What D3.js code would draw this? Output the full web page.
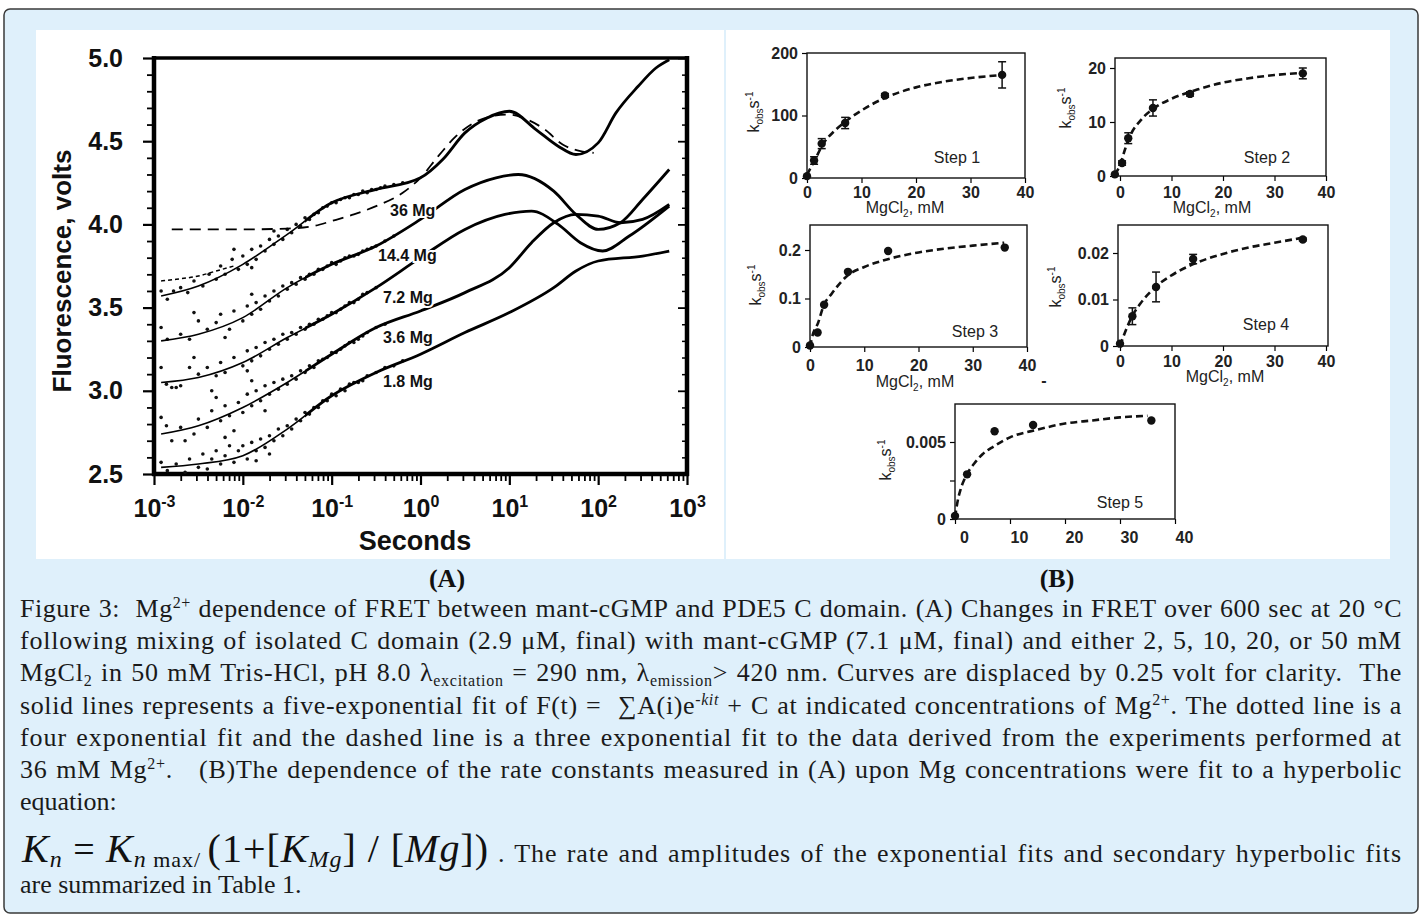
<!DOCTYPE html>
<html>
<head>
<meta charset="utf-8">
<script src="https://d3js.org/d3.v7.min.js"></script>
<style>
body { margin: 0; background: #fff; }
svg text { font-family: "Liberation Sans", Arial, sans-serif; }
svg text.cap { font-family: "Liberation Serif", "Times New Roman", serif; }
</style>
</head>
<body>
<svg id="fig" width="1423" height="920"></svg>
<script>
// ---- panel A data: [log10(seconds), volts] ----
var decades = [-3, -2, -1, 0, 1, 2, 3];
var voltTicks = [2.5, 3.0, 3.5, 4.0, 4.5, 5.0];
var traceNames = ["36 Mg", "14.4 Mg", "7.2 Mg", "3.6 Mg", "1.8 Mg"];
var traceLabelAt = [[-0.343, 4.05], [-0.478, 3.78], [-0.422, 3.53], [-0.422, 3.29], [-0.422, 3.02]];

var fit36 = [[-2.92,3.57],[-2.5,3.63],[-2,3.76],[-1.5,3.94],[-1,4.13],[-0.5,4.21],[0,4.28],[0.25,4.39],[0.5,4.55],[0.75,4.64],[1,4.68],[1.3,4.57],[1.55,4.47],[1.75,4.42],[2,4.49],[2.2,4.67],[2.45,4.83],[2.65,4.94],[2.8,4.99]];
var fit14 = [[-2.92,3.30],[-2.5,3.34],[-2,3.44],[-1.5,3.62],[-1,3.76],[-0.5,3.87],[0,4.03],[0.5,4.21],[0.85,4.28],[1.1,4.30],[1.5,4.20],[1.75,4.06],[2,3.97],[2.25,4.01],[2.5,4.15],[2.8,4.33]];
var fit7 = [[-2.92,3.05],[-2.5,3.08],[-2,3.17],[-1.5,3.32],[-1,3.46],[-0.5,3.62],[0,3.80],[0.5,3.97],[0.95,4.06],[1.25,4.08],[1.55,4.00],[1.8,3.89],[2.05,3.84],[2.35,3.93],[2.8,4.11]];
var fit3 = [[-2.92,2.74],[-2.5,2.79],[-2,2.90],[-1.5,3.05],[-1,3.22],[-0.5,3.38],[0,3.48],[0.5,3.59],[1,3.74],[1.25,3.89],[1.5,4.01],[1.75,4.06],[2,4.05],[2.25,4.01],[2.5,4.03],[2.8,4.12]];
var fit1 = [[-2.92,2.54],[-2.5,2.56],[-2,2.61],[-1.5,2.77],[-1,2.97],[-0.5,3.11],[0,3.22],[0.5,3.35],[1,3.47],[1.5,3.62],[1.75,3.72],[2,3.78],[2.5,3.81],[2.8,3.84]];
var fit36four = [[-2.92,3.66],[-2.75,3.67],[-2.5,3.69],[-2.3,3.72],[-2.1,3.75]];
var fit36three = [[-2.8,3.97],[-2,3.97],[-1.5,3.975],[-1.2,3.99],[-1,4.02],[-0.75,4.06],[-0.5,4.11],[-0.2,4.19],[0,4.28],[0.2,4.41],[0.4,4.53],[0.6,4.61],[0.8,4.65],[1,4.66],[1.2,4.63],[1.4,4.57],[1.6,4.48],[1.8,4.44],[1.95,4.43]];

var pts36 = [[-2.92,3.60],[-2.85,3.55],[-2.78,3.60],[-2.7,3.62],[-2.62,3.59],[-2.55,3.66],[-2.45,3.63],[-2.38,3.70],[-2.3,3.67],[-2.25,3.75],[-2.2,3.70],[-2.12,3.79],[-2.05,3.73],[-2.0,3.81],[-1.95,3.76],[-1.9,3.85],[-1.85,3.79],[-1.8,3.87],[-1.75,3.84],[-1.7,3.91],[-1.65,3.88],[-1.6,3.93],[-1.55,3.91],[-1.5,3.97],[-1.45,3.95],[-1.4,4.00],[-1.35,3.99],[-1.3,4.04],[-1.25,4.03],[-1.2,4.06],[-1.15,4.07],[-1.1,4.10],[-1.05,4.11],[-1.0,4.13],[-0.95,4.13],[-0.9,4.15],[-0.85,4.16],[-0.8,4.16],[-0.75,4.18],[-0.7,4.18],[-0.65,4.20],[-0.6,4.19],[-0.55,4.21],[-0.5,4.21],[-0.45,4.22],[-0.4,4.23],[-0.3,4.24],[-0.2,4.25],[-1.9,3.74],[-2.1,3.85],[-1.65,3.96]];
var pts14 = [[-2.92,3.38],[-2.85,3.31],[-2.7,3.34],[-2.6,3.31],[-2.5,3.42],[-2.4,3.37],[-2.3,3.41],[-2.25,3.46],[-2.15,3.37],[-2.1,3.48],[-2.0,3.42],[-1.95,3.51],[-1.9,3.46],[-1.85,3.53],[-1.8,3.49],[-1.75,3.57],[-1.7,3.54],[-1.65,3.60],[-1.6,3.57],[-1.55,3.63],[-1.5,3.61],[-1.45,3.65],[-1.4,3.64],[-1.35,3.68],[-1.3,3.67],[-1.25,3.70],[-1.2,3.70],[-1.15,3.73],[-1.1,3.73],[-1.05,3.75],[-1.0,3.77],[-0.95,3.76],[-0.9,3.78],[-0.85,3.80],[-0.8,3.81],[-0.75,3.81],[-0.7,3.82],[-0.65,3.84],[-0.6,3.85],[-0.55,3.86],[-0.5,3.87],[-0.4,3.90],[-0.3,3.93],[-2.55,3.47],[-2.2,3.32],[-1.9,3.58]];
var pts7 = [[-2.92,3.14],[-2.86,3.04],[-2.8,3.02],[-2.75,3.02],[-2.7,3.03],[-2.6,3.14],[-2.5,3.10],[-2.4,3.14],[-2.3,3.09],[-2.25,3.17],[-2.2,3.11],[-2.1,3.20],[-2.0,3.15],[-1.95,3.24],[-1.9,3.18],[-1.85,3.26],[-1.8,3.21],[-1.75,3.29],[-1.7,3.25],[-1.65,3.31],[-1.6,3.28],[-1.55,3.34],[-1.5,3.31],[-1.45,3.35],[-1.4,3.34],[-1.35,3.38],[-1.3,3.37],[-1.25,3.40],[-1.2,3.40],[-1.15,3.43],[-1.1,3.43],[-1.05,3.45],[-1.0,3.47],[-0.95,3.47],[-0.9,3.49],[-0.85,3.51],[-0.8,3.53],[-0.75,3.53],[-0.7,3.55],[-0.65,3.58],[-0.6,3.59],[-0.5,3.62],[-2.55,3.20],[-2.35,3.00],[-1.95,3.12]];
var pts3 = [[-2.92,2.84],[-2.86,2.79],[-2.8,2.70],[-2.7,2.78],[-2.65,2.70],[-2.55,2.74],[-2.5,2.83],[-2.4,2.78],[-2.35,2.88],[-2.25,2.82],[-2.2,2.91],[-2.15,2.85],[-2.1,2.76],[-2.05,2.93],[-2.0,2.87],[-1.95,2.98],[-1.9,2.91],[-1.85,3.00],[-1.8,2.94],[-1.75,3.03],[-1.7,2.98],[-1.65,3.05],[-1.6,3.01],[-1.55,3.07],[-1.5,3.04],[-1.45,3.09],[-1.4,3.07],[-1.35,3.12],[-1.3,3.11],[-1.25,3.15],[-1.2,3.14],[-1.15,3.18],[-1.1,3.19],[-1.05,3.20],[-1.0,3.23],[-0.95,3.23],[-0.9,3.25],[-0.85,3.27],[-0.8,3.29],[-0.75,3.29],[-0.7,3.31],[-0.65,3.33],[-0.6,3.35],[-0.5,3.38],[-0.4,3.40],[-1.75,2.88],[-2.3,2.96],[-1.9,3.06]];
var pts1 = [[-2.92,2.57],[-2.85,2.52],[-2.75,2.56],[-2.65,2.51],[-2.6,2.59],[-2.5,2.54],[-2.45,2.62],[-2.4,2.53],[-2.35,2.59],[-2.3,2.64],[-2.25,2.56],[-2.2,2.61],[-2.15,2.67],[-2.1,2.57],[-2.05,2.64],[-2.0,2.67],[-1.95,2.59],[-1.9,2.69],[-1.85,2.64],[-1.8,2.71],[-1.75,2.66],[-1.7,2.73],[-1.65,2.70],[-1.6,2.77],[-1.55,2.73],[-1.5,2.79],[-1.45,2.77],[-1.4,2.83],[-1.35,2.82],[-1.3,2.87],[-1.25,2.86],[-1.2,2.90],[-1.15,2.90],[-1.1,2.94],[-1.05,2.94],[-1.0,2.98],[-0.95,2.97],[-0.9,3.01],[-0.85,3.00],[-0.8,3.04],[-0.75,3.05],[-0.7,3.05],[-0.65,3.06],[-0.6,3.09],[-0.5,3.11],[-0.4,3.14],[-0.3,3.15],[-0.2,3.18],[-1.85,2.58],[-2.2,2.72],[-1.7,2.62]];

// ---- panel B data: MgCl2 (mM) vs kobs ----
var step1Mg = [0, 1.3, 2.7, 7.0, 14.3, 35.8];
var step1K = [3, 28, 55, 88, 132, 165];
var step1Err = [0, 6, 8, 9, 3, 21];
var step1FitMg = [0, 1.5, 3, 5, 7, 10, 14, 20, 25, 30, 36];
var step1FitK = [5, 30, 55, 75, 90, 108, 127, 145, 154, 160, 165];

var step2Mg = [-1, 0.4, 1.6, 6.4, 13.6, 35.5];
var step2K = [0.3, 2.4, 7.0, 12.6, 15.2, 19.0];
var step2Err = [0, 0.4, 1.0, 1.5, 0.4, 1.0];
var step2FitMg = [-1, 0, 1, 2, 4, 7, 10, 15, 20, 25, 30, 35.5];
var step2FitK = [0.3, 2, 5, 7.5, 10.3, 12.8, 14.3, 16, 17.3, 18.1, 18.7, 19.1];

var step3Mg = [0, 1.4, 2.6, 7.0, 14.4, 35.9];
var step3K = [0.003, 0.03, 0.087, 0.155, 0.198, 0.205];
var step3Err = [0, 0, 0, 0, 0, 0];
var step3FitMg = [0, 0.5, 1.5, 2.5, 4, 7, 10, 14, 20, 25, 30, 35.8];
var step3FitK = [0, 0.025, 0.05, 0.085, 0.11, 0.148, 0.165, 0.18, 0.195, 0.203, 0.209, 0.215];

var step4Mg = [0, 2.4, 7.0, 14.2, 35.5];
var step4K = [0.0005, 0.0064, 0.0127, 0.0187, 0.0229];
var step4Err = [0, 0.0018, 0.0032, 0.0010, 0.0003];
var step4FitMg = [0, 1, 2.4, 4, 7, 10, 14, 20, 25, 30, 35];
var step4FitK = [0, 0.003, 0.0065, 0.0092, 0.0128, 0.0152, 0.0175, 0.0198, 0.0212, 0.0222, 0.0232];

var step5Mg = [0, 2.2, 7.2, 14.2, 35.7];
var step5K = [0.0002, 0.0029, 0.0057, 0.0061, 0.0064];
var step5Err = [0, 0, 0, 0, 0];
var step5FitMg = [0, 0.5, 1, 2, 3.5, 5, 7, 10, 15, 20, 25, 30, 35];
var step5FitK = [0.0001, 0.0012, 0.0019, 0.0028, 0.0036, 0.0042, 0.0047, 0.0053, 0.0058, 0.0062, 0.0064, 0.0066, 0.0067];

var mgTicks = [0, 10, 20, 30, 40];

var svg = d3.select("#fig");

// page frame and the two white picture areas
svg.append("rect").attr("x", 4).attr("y", 9).attr("width", 1414).attr("height", 904).attr("rx", 6)
  .attr("fill", "#dff0fb").attr("stroke", "#3a3a3a").attr("stroke-width", 1.5);
svg.append("rect").attr("x", 36).attr("y", 30).attr("width", 688).attr("height", 529).attr("fill", "#fff");
svg.append("rect").attr("x", 726).attr("y", 30).attr("width", 664).attr("height", 529).attr("fill", "#fff");

function cleanAxis(g, w) {
  g.select(".domain").remove();
  g.selectAll(".tick line").attr("stroke", "#000").attr("stroke-width", w);
}

// ================= panel A =================
var xA = d3.scaleLog().domain([1e-3, 1e3]).range([154, 687]);
var yA = d3.scaleLinear().domain([2.5, 5]).range([474, 58]);
var gA = svg.append("g");

var tenths = d3.range(25, 51).map(function(i) { return i / 10; });
var minorV = tenths.filter(function(v) { return Math.round(v * 10) % 5 !== 0; });
var minorT = [];
decades.slice(0, -1).forEach(function(e) {
  for (var m = 2; m <= 9; m++) minorT.push(m * Math.pow(10, e));
});

gA.append("g").attr("transform", "translate(154,0)")
  .call(d3.axisLeft(yA).tickValues(minorV).tickSize(7).tickFormat(""))
  .call(cleanAxis, 1.8);
var yAx = gA.append("g").attr("transform", "translate(154,0)")
  .call(d3.axisLeft(yA).tickValues(voltTicks).tickSize(11).tickPadding(20).tickFormat(d3.format(".1f")))
  .call(cleanAxis, 2.2);
yAx.selectAll(".tick text").style("font-size", "25px").style("font-weight", "bold").attr("fill", "#111");

gA.append("g").attr("transform", "translate(687,0)")
  .call(d3.axisRight(yA).tickValues(minorV).tickSize(-5).tickFormat(""))
  .call(cleanAxis, 1.5);
gA.append("g").attr("transform", "translate(687,0)")
  .call(d3.axisRight(yA).tickValues(voltTicks).tickSize(-9).tickFormat(""))
  .call(cleanAxis, 1.8);

gA.append("g").attr("transform", "translate(0,474)")
  .call(d3.axisBottom(xA).tickValues(minorT).tickSize(7).tickFormat(""))
  .call(cleanAxis, 1.8);
var xAx = gA.append("g").attr("transform", "translate(0,474)")
  .call(d3.axisBottom(xA).tickValues(decades.map(function(e) { return Math.pow(10, e); })).tickSize(11).tickFormat(""))
  .call(cleanAxis, 2.2);
xAx.selectAll(".tick").append("text")
  .attr("y", 43).attr("text-anchor", "middle").attr("fill", "#111")
  .style("font-size", "25px").style("font-weight", "bold")
  .each(function(d) {
    var t = d3.select(this);
    t.append("tspan").text("10");
    t.append("tspan").attr("dy", -10).style("font-size", "16px").text(Math.round(Math.log10(d)));
  });

// frame
gA.append("line").attr("x1", 154).attr("x2", 154).attr("y1", 56).attr("y2", 476).attr("stroke", "#000").attr("stroke-width", 4.5);
gA.append("line").attr("x1", 152).attr("x2", 689).attr("y1", 474).attr("y2", 474).attr("stroke", "#000").attr("stroke-width", 4.5);
gA.append("line").attr("x1", 687).attr("x2", 687).attr("y1", 56).attr("y2", 476).attr("stroke", "#000").attr("stroke-width", 4.5);
gA.append("line").attr("x1", 152).attr("x2", 689).attr("y1", 58).attr("y2", 58).attr("stroke", "#000").attr("stroke-width", 3.5);

// axis titles
gA.append("text").attr("transform", "translate(71,271) rotate(-90)").attr("text-anchor", "middle")
  .style("font-size", "26px").style("font-weight", "bold").attr("fill", "#111").text("Fluorescence, volts");
gA.append("text").attr("x", 415).attr("y", 550).attr("text-anchor", "middle")
  .style("font-size", "27px").style("font-weight", "bold").attr("fill", "#111").text("Seconds");

var defs = svg.append("defs");
var splitX = xA(Math.pow(10, -1.3));
defs.append("clipPath").attr("id", "thinPart").append("rect").attr("x", 150).attr("y", 50).attr("width", splitX - 150).attr("height", 430);
defs.append("clipPath").attr("id", "thickPart").append("rect").attr("x", splitX).attr("y", 50).attr("width", 690 - splitX).attr("height", 430);

var traceLine = d3.line()
  .x(function(d) { return xA(Math.pow(10, d[0])); })
  .y(function(d) { return yA(d[1]); })
  .curve(d3.curveMonotoneX);

var fits = [fit36, fit14, fit7, fit3, fit1];
var pts = [pts36, pts14, pts7, pts3, pts1];

pts.forEach(function(p) {
  gA.append("g").selectAll("circle").data(p).enter().append("circle")
    .attr("cx", function(d) { return xA(Math.pow(10, d[0])); })
    .attr("cy", function(d) { return yA(d[1]); })
    .attr("r", 1.8).attr("fill", "#111");
});

fits.forEach(function(f) {
  gA.append("path").attr("d", traceLine(f)).attr("fill", "none").attr("stroke", "#000")
    .attr("stroke-width", 1.6).attr("clip-path", "url(#thinPart)");
  gA.append("path").attr("d", traceLine(f)).attr("fill", "none").attr("stroke", "#000")
    .attr("stroke-width", 2.8).attr("clip-path", "url(#thickPart)");
});
gA.append("path").attr("d", traceLine(fit36four)).attr("fill", "none").attr("stroke", "#000")
  .attr("stroke-width", 1.5).attr("stroke-dasharray", "4,3");
gA.append("path").attr("d", traceLine(fit36three)).attr("fill", "none").attr("stroke", "#000")
  .attr("stroke-width", 1.8).attr("stroke-dasharray", "11,7");

gA.selectAll(".mglab").data(traceNames).enter().append("text")
  .attr("x", function(d, i) { return xA(Math.pow(10, traceLabelAt[i][0])); })
  .attr("y", function(d, i) { return yA(traceLabelAt[i][1]); })
  .style("font-size", "16px").style("font-weight", "bold").attr("fill", "#111")
  .attr("stroke", "#fff").attr("stroke-width", 4).attr("paint-order", "stroke")
  .text(function(d) { return d; });

// ================= panel B =================
var steps = [
  {name: "Step 1", mg: step1Mg, k: step1K, err: step1Err, fitMg: step1FitMg, fitK: step1FitK, yTicks: [0, 100, 200], yRef: 200},
  {name: "Step 2", mg: step2Mg, k: step2K, err: step2Err, fitMg: step2FitMg, fitK: step2FitK, yTicks: [0, 10, 20], yRef: 20},
  {name: "Step 3", mg: step3Mg, k: step3K, err: step3Err, fitMg: step3FitMg, fitK: step3FitK, yTicks: [0, 0.1, 0.2], yRef: 0.2},
  {name: "Step 4", mg: step4Mg, k: step4K, err: step4Err, fitMg: step4FitMg, fitK: step4FitK, yTicks: [0, 0.01, 0.02], yRef: 0.02},
  {name: "Step 5", mg: step5Mg, k: step5K, err: step5Err, fitMg: step5FitMg, fitK: step5FitK, yTicks: [0, 0.0025, 0.005], yRef: 0.005}
];
// pixel layout of each small plot
var boxes = [
  {x0: 807, x1: 1025, y0: 178, yRefPx: 53, left: 807, right: 1025, top: 53, bottom: 178, labDy: 20, labDx: 0, title: [905, 213], yTitle: [753, 112], stepAt: [957, 163]},
  {x0: 1120, x1: 1326, y0: 176, yRefPx: 68, left: 1115, right: 1326, top: 58, bottom: 176, labDy: 22, labDx: 0, title: [1212, 213], yTitle: [1065, 108], stepAt: [1267, 163]},
  {x0: 810, x1: 1027, y0: 347, yRefPx: 250, left: 810, right: 1027, top: 225, bottom: 347, labDy: 24, labDx: 0, title: [915, 387], yTitle: [755, 285], stepAt: [975, 337]},
  {x0: 1120, x1: 1326, y0: 346, yRefPx: 253, left: 1118, right: 1328, top: 225, bottom: 346, labDy: 21, labDx: 0, title: [1225, 382], yTitle: [1055, 287], stepAt: [1266, 330]},
  {x0: 955, x1: 1175, y0: 519, yRefPx: 442, left: 955, right: 1175, top: 404, bottom: 519, labDy: 24, labDx: 9, title: null, yTitle: [885, 460], stepAt: [1120, 508]}
];

function kFormat(d) {
  if (d === 0.0025) return "";
  return d === 0 ? "0" : String(d);
}

steps.forEach(function(s, i) {
  var b = boxes[i];
  var x = d3.scaleLinear().domain([0, 40]).range([b.x0, b.x1]);
  var y = d3.scaleLinear().domain([0, s.yRef]).range([b.y0, b.yRefPx]);
  var g = svg.append("g");

  var xa = g.append("g").attr("transform", "translate(0," + b.bottom + ")")
    .call(d3.axisBottom(x).tickValues(mgTicks).tickSize(5).tickFormat(d3.format("d")))
    .call(cleanAxis, 1.2);
  xa.selectAll(".tick text").attr("y", b.labDy).attr("dy", 0).attr("dx", b.labDx)
    .style("font-size", "16px").style("font-weight", "bold").attr("fill", "#222");

  var ya = g.append("g").attr("transform", "translate(" + b.left + ",0)")
    .call(d3.axisLeft(y).tickValues(s.yTicks).tickSize(5).tickPadding(4).tickFormat(kFormat))
    .call(cleanAxis, 1.2);
  ya.selectAll(".tick text").style("font-size", "16px").style("font-weight", "bold").attr("fill", "#222");

  g.append("rect").attr("x", b.left).attr("y", b.top).attr("width", b.right - b.left).attr("height", b.bottom - b.top)
    .attr("fill", "none").attr("stroke", "#111").attr("stroke-width", 1.4);

  var fitLine = d3.line()
    .x(function(d, j) { return x(s.fitMg[j]); })
    .y(function(d) { return y(d); })
    .curve(d3.curveMonotoneX);
  g.append("path").attr("d", fitLine(s.fitK)).attr("fill", "none").attr("stroke", "#111")
    .attr("stroke-width", 2.6).attr("stroke-dasharray", "7,4");

  s.k.forEach(function(k, j) {
    if (s.err[j] > 0) {
      var cx = x(s.mg[j]);
      g.append("line").attr("x1", cx).attr("x2", cx).attr("y1", y(k - s.err[j])).attr("y2", y(k + s.err[j])).attr("stroke", "#111").attr("stroke-width", 1.5);
      [k - s.err[j], k + s.err[j]].forEach(function(v) {
        g.append("line").attr("x1", cx - 4).attr("x2", cx + 4).attr("y1", y(v)).attr("y2", y(v)).attr("stroke", "#111").attr("stroke-width", 1.5);
      });
    }
  });
  g.selectAll("circle").data(s.k).enter().append("circle")
    .attr("cx", function(d, j) { return x(s.mg[j]); })
    .attr("cy", function(d) { return y(d); })
    .attr("r", 4.2).attr("fill", "#111");

  g.append("text").attr("x", b.stepAt[0]).attr("y", b.stepAt[1]).attr("text-anchor", "middle")
    .style("font-size", "16px").attr("fill", "#222").text(s.name);

  if (b.title) {
    var t = g.append("text").attr("x", b.title[0]).attr("y", b.title[1]).attr("text-anchor", "middle")
      .style("font-size", "16px").attr("fill", "#222");
    t.append("tspan").text("MgCl");
    t.append("tspan").attr("dy", 4).style("font-size", "10px").text("2");
    t.append("tspan").attr("dy", -4).text(", mM");
  }

  var yt = g.append("text").attr("transform", "translate(" + (b.yTitle[0] + 6) + "," + b.yTitle[1] + ") rotate(-90)")
    .attr("text-anchor", "middle").style("font-size", "16px").attr("fill", "#222");
  yt.append("tspan").text("k");
  yt.append("tspan").attr("dy", 4).style("font-size", "10px").text("obs");
  yt.append("tspan").attr("dy", -4).text("s");
  yt.append("tspan").attr("dy", -6).style("font-size", "10px").text("-1");
});

svg.append("text").attr("x", 1044).attr("y", 386).attr("text-anchor", "middle")
  .style("font-size", "16px").style("font-weight", "bold").attr("fill", "#222").text("-");

// ================= captions =================
svg.append("text").attr("class", "cap").attr("x", 447).attr("y", 587).attr("text-anchor", "middle")
  .style("font-size", "26px").style("font-weight", "bold").attr("fill", "#111").text("(A)");
svg.append("text").attr("class", "cap").attr("x", 1057).attr("y", 587).attr("text-anchor", "middle")
  .style("font-size", "26px").style("font-weight", "bold").attr("fill", "#111").text("(B)");

var capLines = [
  [["Figure 3:  Mg"], ["2+", "sup"], [" dependence of FRET between mant-cGMP and PDE5 C domain. (A) Changes in FRET over 600 sec at 20 °C"]],
  [["following mixing of isolated C domain (2.9 μM, final) with mant-cGMP (7.1 μM, final) and either 2, 5, 10, 20, or 50 mM"]],
  [["MgCl"], ["2", "sub"], [" in 50 mM Tris-HCl, pH 8.0 λ"], ["excitation", "sub"], [" = 290 nm, λ"], ["emission", "sub"], ["> 420 nm. Curves are displaced by 0.25 volt for clarity.  The"]],
  [["solid lines represents a five-exponential fit of F(t) =  ∑A(i)e"], ["-kit", "supit"], [" + C at indicated concentrations of Mg"], ["2+", "sup"], [". The dotted line is a"]],
  [["four exponential fit and the dashed line is a three exponential fit to the data derived from the experiments performed at"]],
  [["36 mM Mg"], ["2+", "sup"], [".   (B)The dependence of the rate constants measured in (A) upon Mg concentrations were fit to a hyperbolic"]],
  [["equation:"]]
];
var capBaseline = [617, 649, 681, 714, 746, 778, 810];
var capJustify = [true, true, true, true, true, true, false];

function capText(segs, x, y, right) {
  var t = svg.append("text").attr("class", "cap").attr("x", x).attr("y", y)
    .style("font-size", "26px").style("white-space", "pre").attr("fill", "#1a1a1a");
  var shift = 0;
  segs.forEach(function(s) {
    var sh = (s[1] === "sup" || s[1] === "supit") ? -9 : (s[1] === "sub" ? 5 : 0);
    var sp = t.append("tspan").attr("dy", sh - shift).text(s[0]);
    shift = sh;
    if (sh !== 0) sp.style("font-size", "16px");
    if (s[1] === "supit") sp.style("font-style", "italic");
  });
  if (right) {
    // spread the spare width mostly between letters, a little between words
    var all = segs.map(function(s) { return s[0]; }).join("");
    var w = t.node().getComputedTextLength();
    var n = (all.match(/ /g) || []).length;
    var extra = right - x - w;
    t.style("letter-spacing", (0.75 * extra / all.length) + "px");
    var w2 = t.node().getComputedTextLength();
    t.attr("word-spacing", (right - x - w2) / n);
  }
  return t;
}

capLines.forEach(function(segs, i) {
  capText(segs, 20, capBaseline[i], capJustify[i] ? 1402 : null);
});

// equation line
var eqParts = [
  ["K", 40, "italic", 0], ["n", 24, "italic", 5], [" = ", 38, "normal", -5], ["K", 40, "italic", 0], ["n", 24, "italic", 5],
  [" max/ ", 22, "normal", 0], ["(1+[", 40, "normal", -5], ["K", 40, "italic", 0], ["Mg", 24, "italic", 5],
  ["] / [", 40, "normal", -5], ["Mg", 40, "italic", 0], ["])", 40, "normal", 0]
];
var eq = svg.append("text").attr("class", "cap").attr("x", 22).attr("y", 862)
  .style("white-space", "pre").attr("fill", "#111");
eqParts.forEach(function(p) {
  eq.append("tspan").attr("dy", p[3]).style("font-size", p[1] + "px").style("font-style", p[2]).text(p[0]);
});
eq.attr("textLength", 466).attr("lengthAdjust", "spacing");
capText([[". The rate and amplitudes of the exponential fits and secondary hyperbolic fits"]], 498, 862, 1402);
capText([["are summarized in Table 1."]], 20, 893, null);
</script>
</body>
</html>
